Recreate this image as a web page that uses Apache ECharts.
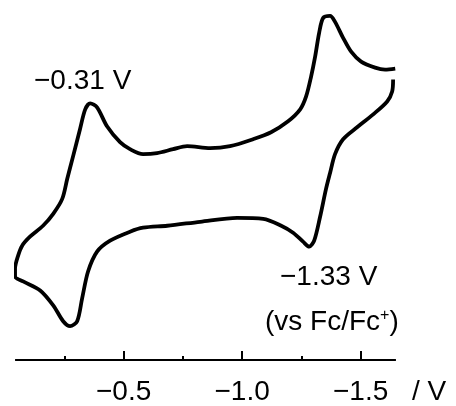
<!DOCTYPE html>
<html>
<head>
<meta charset="utf-8">
<script src="https://cdn.jsdelivr.net/npm/echarts@6/dist/echarts.min.js"></script>
<style>
html,body{margin:0;padding:0;background:#fff;}
#chart{width:456px;height:406px;}
</style>
</head>
<body>
<div id="chart"></div>
<script>
// Potential (V vs Fc/Fc+) along the scan
const potential = [-1.646,-1.603,-1.561,-1.502,-1.460,-1.426,-1.392,-1.371,-1.342,-1.325,-1.308,-1.291,-1.270,-1.245,-1.194,-1.122,-1.046,-0.949,-0.865,-0.768,-0.709,-0.641,-0.582,-0.527,-0.485,-0.430,-0.388,-0.359,-0.338,-0.316,-0.287,-0.262,-0.241,-0.203,-0.160,-0.105,-0.072,-0.055,-0.042,-0.042,-0.076,-0.148,-0.203,-0.245,-0.274,-0.304,-0.325,-0.350,-0.388,-0.443,-0.527,-0.582,-0.684,-0.823,-0.979,-1.089,-1.165,-1.215,-1.257,-1.283,-1.304,-1.329,-1.354,-1.371,-1.392,-1.426,-1.485,-1.553,-1.612,-1.633,-1.637];
// Current (arbitrary units)
const current = [18.1,18.0,18.2,18.8,19.8,21.2,22.8,23.4,23.2,21.7,19.3,17.3,15.3,14.0,12.8,11.7,11.0,10.3,10.1,10.3,10.0,9.6,9.5,10.0,10.7,12.3,14.2,14.6,14.0,12.0,9.3,7.0,5.0,3.5,2.3,1.2,0.3,-0.7,-2.0,-2.8,-3.3,-4.2,-5.7,-7.3,-7.8,-7.3,-5.0,-2.3,-0.3,0.8,1.7,2.1,2.3,2.7,3.1,3.0,2.3,1.6,0.7,0.2,0.8,3.2,6.0,7.6,9.5,11.0,12.2,13.5,14.8,15.8,17.0];
const majorTicks = [-0.5, -1.0, -1.5];
const majorTickLabels = ['\u22120.5', '\u22121.0', '\u22121.5'];
const minorTicks = [-0.25, -0.75, -1.25];
const axisName = '/ V';
const peakLabels = ['\u22120.31 V', '\u22121.33 V'];
const refLabel = '(vs Fc/Fc{sup|+})';

const FONT = 'Liberation Sans, Arial, sans-serif';
const FS = 28;
const xMin = -1.645, xMax = -0.046;

const chart = echarts.init(document.getElementById('chart'), null, {renderer: 'canvas'});
const data = potential.map((v, i) => [v, current[i]]);

const baseX = {
  type: 'value', min: xMin, max: xMax, inverse: true, position: 'bottom',
  splitLine: {show: false},
  axisLine: {show: true, onZero: false, lineStyle: {color: '#000', width: 2}}
};

chart.setOption({
  animation: false,
  backgroundColor: '#fff',
  grid: {left: 16, right: 61, top: 0, bottom: 44, containLabel: false},
  xAxis: [
    Object.assign({}, baseX, {
      name: axisName,
      nameLocation: 'start',
      nameGap: 17,
      nameTextStyle: {color: '#000', fontFamily: FONT, fontSize: FS, verticalAlign: 'top', align: 'left', padding: [18, 0, 0, 0]},
      axisTick: {show: true, inside: true, length: 9, customValues: majorTicks, lineStyle: {color: '#000', width: 2}},
      axisLabel: {show: true, customValues: majorTicks, margin: 18, color: '#000', fontFamily: FONT, fontSize: FS,
        formatter: v => { const k = majorTicks.findIndex(t => Math.abs(t - v) < 1e-6); return k >= 0 ? majorTickLabels[k] : ''; }}
    }),
    Object.assign({}, baseX, {
      axisTick: {show: true, inside: true, length: 4, customValues: minorTicks, lineStyle: {color: '#000', width: 2}},
      axisLabel: {show: false}
    })
  ],
  yAxis: {type: 'value', min: -11.2, max: 25, show: false, splitLine: {show: false}},
  series: [{
    type: 'line', xAxisIndex: 0, data: data, showSymbol: false, smooth: 0.3,
    lineStyle: {color: '#000', width: 3.8}, clip: false
  }],
  graphic: [
    {type: 'text', left: 34, top: 67, style: {text: peakLabels[0], fill: '#000', font: FS + 'px ' + FONT}},
    {type: 'text', left: 280, top: 263, style: {text: peakLabels[1], fill: '#000', font: FS + 'px ' + FONT}},
    {type: 'text', left: 265, top: 308, style: {text: refLabel, fill: '#000', font: FS + 'px ' + FONT,
      rich: {sup: {fontSize: 16, fontFamily: FONT, fill: '#000', verticalAlign: 'top', padding: [0, 0, 12, 0]}}}}
  ]
});
</script>
</body>
</html>
